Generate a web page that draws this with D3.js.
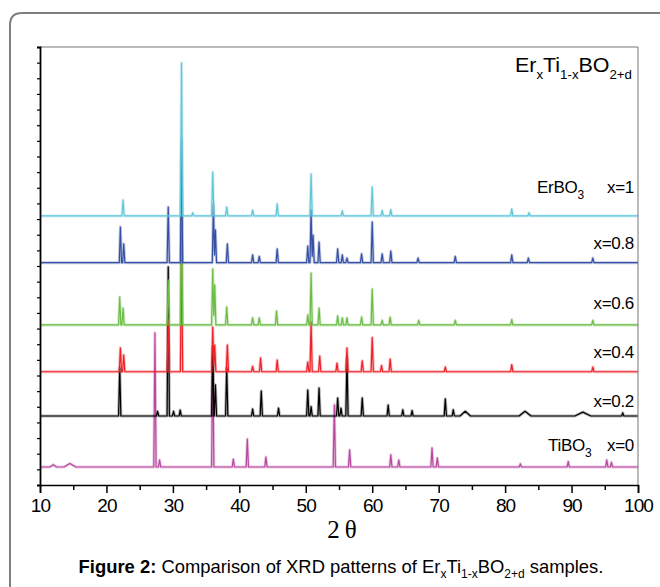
<!DOCTYPE html>
<html><head><meta charset="utf-8">
<script src="https://cdn.jsdelivr.net/npm/d3@7"></script>
<style>body{margin:0;background:#fff}svg{display:block}</style>
</head><body><svg id="c" width="660" height="587" font-family="Liberation Sans, Arial, sans-serif"></svg>
<script>
// ---- data ----
const xTicks = [10, 20, 30, 40, 50, 60, 70, 80, 90, 100];
const xMinorTicks = [15, 25, 35, 45, 55, 65, 75, 85, 95];
const sampleLabels = ["x=0", "x=0.2", "x=0.4", "x=0.6", "x=0.8", "x=1"];
const phaseLabels = ["TiBO3", "", "", "", "", "ErBO3"];
const colors = ["#b8489f", "#000000", "#ee2127", "#6bbd45", "#3650a3", "#62c6da"];
// vertical offsets of each trace (arbitrary intensity units)
const baselines = [1.15, 4.41, 7.24, 10.23, 14.21, 17.2];
// peaks: [2theta, intensity above baseline, half-width]
const peaksX0 = [[12.0,0.15,0.5],[14.5,0.22,0.9],[27.3,8.57],[28.0,0.45],[36.0,7.16],[39.1,0.5],[41.2,1.79],[44.0,0.64],[54.3,3.96],[56.6,1.09],[62.8,0.77],[64.0,0.45],[69.0,1.22],[69.8,0.58],[82.3,0.2],[89.5,0.35],[95.3,0.45],[96.0,0.3]];
const peaksX02 = [[22.0,3.07],[27.7,0.3],[29.3,9.53],[30.1,0.3],[31.1,0.38],[36.0,4.41],[36.4,2.0],[38.1,3.07],[42.0,0.45],[43.3,1.6],[45.9,0.5],[50.3,1.66],[50.8,0.6],[52.0,1.79],[54.8,1.15],[55.3,0.5],[56.2,3.71],[58.5,1.15],[62.4,0.7],[64.6,0.4],[66.0,0.35],[71.0,1.09],[72.2,0.4],[74.0,0.3,0.8],[83.0,0.3,0.9],[91.7,0.25,1.2],[97.7,0.2]];
const peaksX04 = [[22.1,1.52],[22.6,1.07],[29.3,3.31],[31.3,8.1],[36.0,2.86],[36.3,1.71],[38.2,1.71],[42.0,0.35],[43.2,0.88],[45.7,0.75],[50.3,0.62],[50.8,3.18],[52.1,1.0],[54.7,0.55],[56.2,1.52],[58.5,0.7],[60.0,2.19],[61.4,0.4],[62.7,0.81],[71.0,0.3],[81.0,0.45],[93.2,0.3]];
const peaksX06 = [[22.0,1.79],[22.5,1.08],[29.3,2.87],[31.3,8.63],[36.0,3.58],[36.3,2.56],[38.1,1.15],[42.0,0.45],[43.0,0.45],[45.6,0.89],[50.3,0.64],[50.8,3.32],[52.0,1.08],[54.8,0.58],[55.5,0.45],[56.2,0.45],[58.4,0.51],[60.0,2.3],[61.5,0.3],[62.7,0.5],[67.0,0.3],[72.5,0.3],[81.0,0.35],[93.2,0.3]];
const peaksX08 = [[22.1,2.28],[22.6,1.2],[29.3,3.56],[31.3,7.84],[36.1,3.75],[36.4,2.1],[38.2,1.2],[42.0,0.5],[43.0,0.4],[45.7,0.88],[50.3,1.07],[50.8,3.37],[51.1,1.77],[52.0,1.32],[54.8,0.88],[55.5,0.5],[56.2,0.3],[58.4,0.56],[60.0,2.6],[61.5,0.56],[62.8,0.75],[66.9,0.3],[72.5,0.4],[81.0,0.5],[83.5,0.3],[93.2,0.3]];
const peaksX1 = [[22.5,1.02],[31.3,9.78],[33.0,0.2],[36.0,2.81],[38.1,0.57],[42.0,0.38],[45.7,0.77],[50.8,2.68],[55.5,0.32],[60.0,1.85],[61.5,0.35],[62.8,0.4],[81.0,0.45],[83.6,0.2]];
const peakSets = [peaksX0, peaksX02, peaksX04, peaksX06, peaksX08, peaksX1];
const labelBaselines = [451, 407, 358, 309, 249, 193];

// ---- drawing ----
const svg = d3.select("#c");
const L = 40, R = 638, T = 47, B = 485;
const x = d3.scaleLinear().domain([10, 100]).range([L, R]);
const y = d3.scaleLinear().domain([0, 28]).range([B, T]);

// outer rounded frame
svg.append("path").attr("d", "M10,600 L10,25 Q10,13 22,13 L672,13")
  .attr("fill", "none").attr("stroke", "#7f7f7f").attr("stroke-width", 2);

// traces
const HW = 0.17;
function tracePoints(peaks, base) {
  const xs = new Set([10, 100]);
  peaks.forEach(p => { const w = p[2] || HW; xs.add(p[0] - w); xs.add(p[0]); xs.add(p[0] + w); });
  const arr = Array.from(xs).filter(v => v >= 10 && v <= 100).sort((a, b) => a - b);
  return arr.map(t => {
    let s = 0;
    peaks.forEach(p => { const w = p[2] || HW; const d = Math.abs(t - p[0]); if (d < w) s += p[1] * (1 - d / w); });
    return [t, base + s];
  });
}
const line = d3.line().x(d => x(d[0])).y(d => y(d[1]));
const g = svg.append("g");
peakSets.forEach((pk, i) => {
  const pts = tracePoints(pk, baselines[i]);
  g.append("path").attr("d", line(pts)).attr("fill", "none").attr("stroke", colors[i])
    .attr("stroke-width", 3).attr("stroke-opacity", 0.3).attr("stroke-linejoin", "round");
  g.append("path").attr("d", line(pts)).attr("fill", "none").attr("stroke", colors[i])
    .attr("stroke-width", 1.2).attr("stroke-linejoin", "round");
});

// plot frame
svg.append("line").attr("x1", L).attr("x2", R).attr("y1", T).attr("y2", T).attr("stroke", "#777").attr("stroke-width", 1);
svg.append("line").attr("x1", R).attr("x2", R).attr("y1", T).attr("y2", B).attr("stroke", "#777").attr("stroke-width", 1);

// axes
const xAxis = d3.axisBottom(x).tickValues(xTicks).tickSize(8).tickPadding(6).tickFormat(d3.format("d"));
const xa = svg.append("g").attr("transform", `translate(0,${B})`).call(xAxis);
xa.attr("font-family", null).attr("font-size", null);
xa.select(".domain").attr("stroke", "#000").attr("stroke-width", 1.6);
xa.selectAll(".tick line").attr("stroke-width", 1.5);
xa.selectAll("text").attr("font-size", 19).attr("fill", "#000").attr("letter-spacing", "-0.9");
const xm = svg.append("g").attr("transform", `translate(0,${B})`)
  .call(d3.axisBottom(x).tickValues(xMinorTicks).tickSize(5).tickFormat(""));
xm.select(".domain").remove();
xm.selectAll(".tick line").attr("stroke-width", 1.5);

const yAxis = d3.axisLeft(y).tickValues(d3.range(1, 29)).tickSize(3).tickFormat("");
const ya = svg.append("g").attr("transform", `translate(${L},0)`).call(yAxis);
ya.select(".domain").attr("stroke", "#000").attr("stroke-width", 1.8);
ya.selectAll(".tick line").attr("stroke-width", 1.2);

// axis title
svg.append("text").attr("x", 342).attr("y", 538).attr("text-anchor", "middle")
  .attr("font-family", "Liberation Serif, Times New Roman, serif").attr("font-size", 25).text("2\u2009\u03B8");

// formula label top-right
const f = svg.append("text").attr("x", 515).attr("y", 72).attr("font-size", 21)
  .attr("textLength", 117).attr("lengthAdjust", "spacingAndGlyphs");
const fparts = [["Er", 0, 21], ["x", 7, 13], ["Ti", -7, 21], ["1-x", 7, 13], ["BO", -7, 21], ["2+d", 7, 13]];
fparts.forEach(p => f.append("tspan").attr("dy", p[1]).attr("font-size", p[2]).text(p[0]));

// sample labels
sampleLabels.forEach((s, i) => {
  svg.append("text").attr("x", 634).attr("y", labelBaselines[i]).attr("text-anchor", "end")
    .attr("font-size", 17).attr("letter-spacing", "-0.3").text(s);
  if (phaseLabels[i]) {
    const t = svg.append("text").attr("x", i === 0 ? 548 : 537).attr("y", labelBaselines[i]).attr("font-size", 17).attr("letter-spacing", "-0.3");
    t.append("tspan").text(phaseLabels[i].slice(0, -1));
    t.append("tspan").attr("dy", 6).attr("font-size", 12).text(phaseLabels[i].slice(-1));
  }
});

// caption
const cap = svg.append("text").attr("x", 341).attr("y", 573).attr("text-anchor", "middle").attr("font-size", 18.4);
cap.append("tspan").attr("font-weight", "bold").text("Figure 2:");
cap.append("tspan").text(" Comparison of XRD patterns of Er");
cap.append("tspan").attr("dy", 5).attr("font-size", 12).text("x");
cap.append("tspan").attr("dy", -5).text("Ti");
cap.append("tspan").attr("dy", 5).attr("font-size", 12).text("1-x");
cap.append("tspan").attr("dy", -5).text("BO");
cap.append("tspan").attr("dy", 5).attr("font-size", 12).text("2+d");
cap.append("tspan").attr("dy", -5).text(" samples.");
</script></body></html>
